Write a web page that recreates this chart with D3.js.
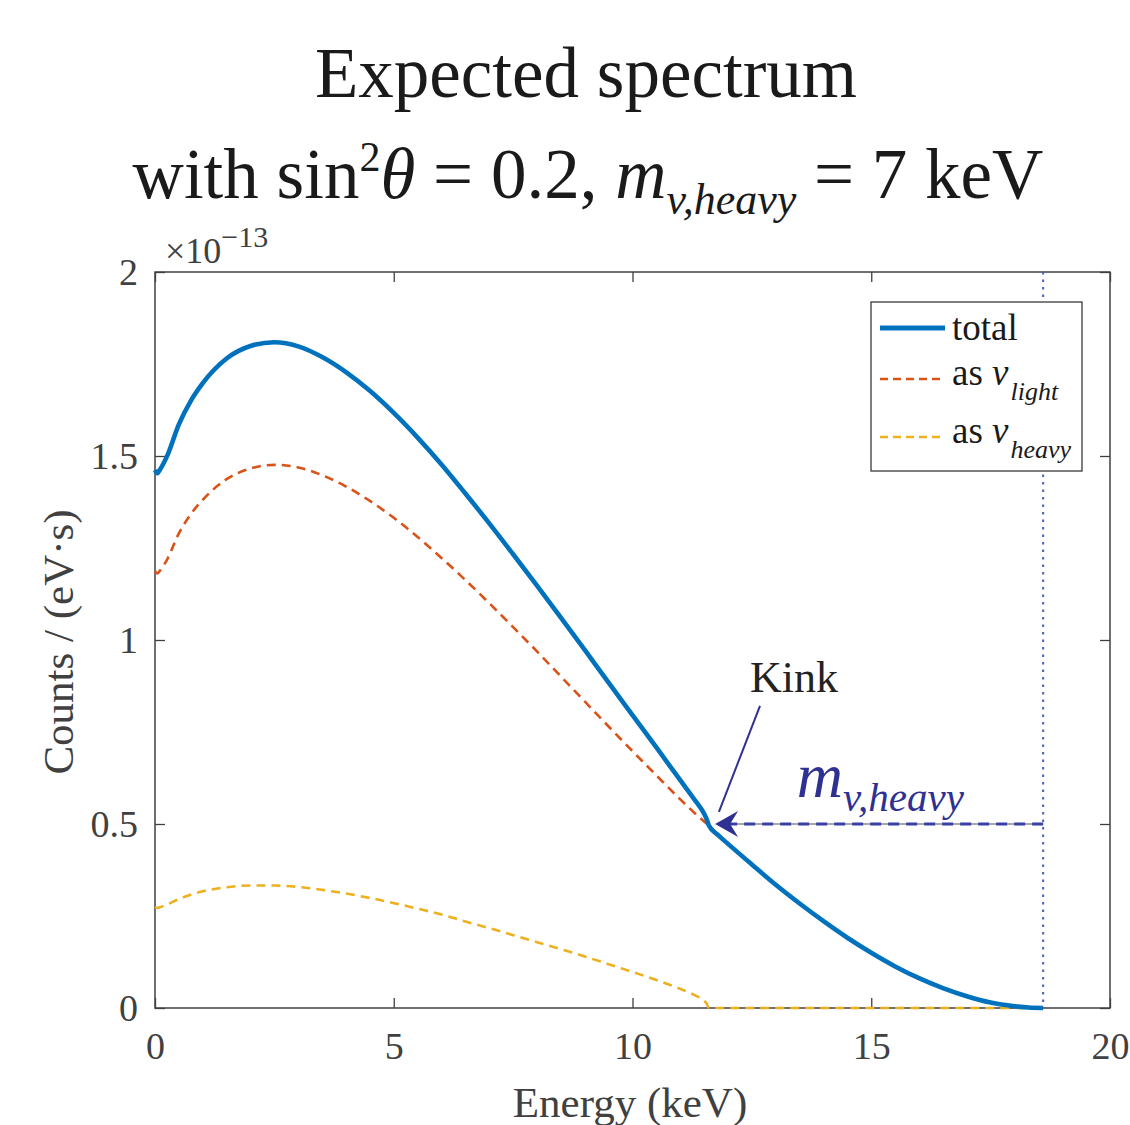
<!DOCTYPE html>
<html>
<head>
<meta charset="utf-8">
<script src="https://cdn.jsdelivr.net/npm/d3@7"></script>
<style>
  body { margin: 0; background: #fff; }
  svg text { font-family: "Liberation Serif", "Times New Roman", serif; white-space: pre; }
</style>
</head>
<body>
<div id="chart"></div>
<script>
// energy grid (keV) and the three curves, in units of 1e-13 counts/(eV s)
const energy = [0, 0.05, 0.1, 0.25, 0.5, 0.75, 1, 1.5, 2, 2.5, 3, 3.5, 4, 4.5, 5, 5.5, 6, 6.5, 7, 7.5,
  8, 8.5, 9, 9.5, 10, 10.5, 11, 11.3, 11.5, 11.55, 11.6, 11.8, 12, 12.5, 13, 13.5, 14, 14.5, 15, 15.5, 16,
  16.5, 17, 17.5, 18, 18.3, 18.6];
const totalCounts = [1.462, 1.453, 1.462, 1.499, 1.586, 1.65, 1.698, 1.765, 1.799, 1.809, 1.798, 1.769,
  1.728, 1.677, 1.617, 1.55, 1.477, 1.398, 1.317, 1.233, 1.148, 1.061, 0.973, 0.884, 0.796, 0.708,
  0.619, 0.566, 0.528, 0.514, 0.496, 0.469, 0.446, 0.39, 0.335, 0.284, 0.236, 0.191, 0.15, 0.113, 0.081,
  0.054, 0.032, 0.015, 0.005, 0.0012, 0];
const lightCounts = [1.188, 1.181, 1.188, 1.218, 1.29, 1.342, 1.381, 1.437, 1.466, 1.476, 1.469, 1.448,
  1.417, 1.378, 1.332, 1.28, 1.223, 1.163, 1.1, 1.035, 0.969, 0.901, 0.833, 0.765, 0.698, 0.632,
  0.567, 0.53, 0.507, 0.501, 0.496, 0.469, 0.446, 0.39, 0.335, 0.284, 0.236, 0.191, 0.15, 0.113, 0.081,
  0.054, 0.032, 0.015, 0.005, 0.0012, 0];
const heavyCounts = [0.274, 0.272, 0.274, 0.281, 0.296, 0.308, 0.317, 0.328, 0.333, 0.333, 0.329, 0.321,
  0.311, 0.299, 0.285, 0.27, 0.254, 0.235, 0.217, 0.198, 0.179, 0.16, 0.14, 0.119, 0.098, 0.076,
  0.052, 0.035, 0.02, 0.013, 0, 0, 0, 0, 0, 0, 0, 0, 0, 0, 0,
  0, 0, 0, 0, 0, 0];

const xTicks = [0, 5, 10, 15, 20];
const yTicks = [0, 0.5, 1, 1.5, 2];
const endpointE = 18.6;   // dotted vertical line
const arrowTipE = 11.73;  // where the m_heavy arrow stops
const arrowLevel = 0.5;

const W = 1130, H = 1125;
const svg = d3.select("#chart").append("svg")
  .attr("width", W).attr("height", H);

const x = d3.scaleLinear().domain([0, 20]).range([155, 1110]);
const y = d3.scaleLinear().domain([0, 2]).range([1008, 272]);

const axisColor = "#404040";

// title
svg.append("text")
  .attr("x", 586).attr("y", 97)
  .attr("text-anchor", "middle").attr("font-size", 71).attr("fill", "#1a1a1a")
  .text("Expected spectrum");

const t2 = svg.append("text")
  .attr("x", 588).attr("y", 198)
  .attr("text-anchor", "middle").attr("font-size", 71).attr("fill", "#1a1a1a");
t2.append("tspan").text("with sin");
t2.append("tspan").attr("font-size", 42).attr("dy", -27).text("2");
t2.append("tspan").attr("font-style", "italic").attr("dy", 27).text("θ");
t2.append("tspan").text(" = 0.2, ");
t2.append("tspan").attr("font-style", "italic").text("m");
t2.append("tspan").attr("font-style", "italic").attr("font-size", 44).attr("dy", 16).text("v,heavy");
t2.append("tspan").attr("dy", -16).text(" = 7 keV");

// exponent label
const expo = svg.append("text")
  .attr("x", 165).attr("y", 263).attr("font-size", 36).attr("fill", axisColor);
expo.append("tspan").text("×10");
expo.append("tspan").attr("font-size", 30).attr("dy", -16).text("−13");

// axes
const gx = svg.append("g").attr("transform", `translate(0,${y(0)})`)
  .call(d3.axisBottom(x).tickValues(xTicks).tickSizeInner(-10).tickSizeOuter(0).tickPadding(24));
const gy = svg.append("g").attr("transform", `translate(${x(0)},0)`)
  .call(d3.axisLeft(y).tickValues(yTicks).tickFormat(d3.format("")).tickSizeInner(-10).tickSizeOuter(0).tickPadding(17));
const gt = svg.append("g").attr("transform", `translate(0,${y(2)})`)
  .call(d3.axisTop(x).tickValues(xTicks).tickFormat("").tickSizeInner(-10).tickSizeOuter(0));
const gr = svg.append("g").attr("transform", `translate(${x(20)},0)`)
  .call(d3.axisRight(y).tickValues(yTicks).tickFormat("").tickSizeInner(-10).tickSizeOuter(0));

[gx, gy, gt, gr].forEach(g => {
  g.select(".domain").remove();
  g.selectAll(".tick line").attr("stroke", axisColor).attr("stroke-width", 1.3);
  g.selectAll(".tick text").attr("fill", axisColor).attr("font-size", 38)
    .style("font-family", '"Liberation Serif", serif');
});

svg.append("rect")
  .attr("x", x(0)).attr("y", y(2))
  .attr("width", x(20) - x(0)).attr("height", y(0) - y(2))
  .attr("fill", "none").attr("stroke", axisColor).attr("stroke-width", 1.5);

// axis titles
svg.append("text")
  .attr("x", 630).attr("y", 1117)
  .attr("text-anchor", "middle").attr("font-size", 43).attr("fill", axisColor)
  .text("Energy (keV)");
svg.append("text")
  .attr("transform", "translate(73,642) rotate(-90)")
  .attr("text-anchor", "middle").attr("font-size", 43).attr("fill", axisColor)
  .text("Counts / (eV·s)");

// curves
const line = d3.line()
  .x(d => x(d[0])).y(d => y(d[1]))
  .curve(d3.curveMonotoneX);

const pairs = arr => energy.map((e, i) => [e, arr[i]]);

svg.append("path").datum(pairs(heavyCounts))
  .attr("d", line).attr("fill", "none")
  .attr("stroke", "#EDB120").attr("stroke-width", 2.6).attr("stroke-dasharray", "9,6");
svg.append("path").datum(pairs(lightCounts))
  .attr("d", line).attr("fill", "none")
  .attr("stroke", "#D95319").attr("stroke-width", 2.6).attr("stroke-dasharray", "9,6");
svg.append("path").datum(pairs(totalCounts))
  .attr("d", line).attr("fill", "none")
  .attr("stroke", "#0072BD").attr("stroke-width", 4.6).attr("stroke-linejoin", "round");

// endpoint dotted line
svg.append("line")
  .attr("x1", x(endpointE)).attr("x2", x(endpointE))
  .attr("y1", y(2)).attr("y2", y(0))
  .attr("stroke", "#4a5cc0").attr("stroke-width", 2).attr("stroke-dasharray", "2.5,5");

// m_heavy arrow
const navy = "#2e3192";
svg.append("line")
  .attr("x1", x(endpointE)).attr("x2", x(arrowTipE) + 8)
  .attr("y1", y(arrowLevel)).attr("y2", y(arrowLevel))
  .attr("stroke", "#8a8a8a").attr("stroke-width", 1.3);
svg.append("line")
  .attr("x1", x(endpointE)).attr("x2", x(arrowTipE) + 14)
  .attr("y1", y(arrowLevel)).attr("y2", y(arrowLevel))
  .attr("stroke", "#3a40a8").attr("stroke-width", 2.8).attr("stroke-dasharray", "11,7");
const tx = x(arrowTipE), ty = y(arrowLevel);
svg.append("path")
  .attr("d", `M${tx},${ty} L${tx + 23},${ty - 13} L${tx + 15},${ty} L${tx + 23},${ty + 13} Z`)
  .attr("fill", navy);

// Kink pointer
svg.append("line")
  .attr("x1", x(12.67)).attr("y1", y(0.821))
  .attr("x2", x(11.81)).attr("y2", y(0.533))
  .attr("stroke", navy).attr("stroke-width", 2);
svg.append("text")
  .attr("x", x(12.46)).attr("y", y(0.859))
  .attr("font-size", 44).attr("fill", "#222")
  .text("Kink");

const ml = svg.append("text")
  .attr("x", x(13.44)).attr("y", y(0.573))
  .attr("font-size", 64).attr("fill", navy).attr("font-style", "italic");
ml.append("tspan").text("m");
ml.append("tspan").attr("font-size", 41).attr("dy", 14).text("v,heavy");

// legend
const legend = svg.append("g");
legend.append("rect")
  .attr("x", 871).attr("y", 302).attr("width", 211).attr("height", 169)
  .attr("fill", "#fff").attr("stroke", "#3a3a3a").attr("stroke-width", 1.3);
const legendItems = [
  { label: "total", sub: null, color: "#0072BD", width: 5, dash: null, ly: 328, ty: 340 },
  { label: "as ", sub: "light", color: "#D95319", width: 2.6, dash: "8,5", ly: 379, ty: 385 },
  { label: "as ", sub: "heavy", color: "#EDB120", width: 2.6, dash: "8,5", ly: 437, ty: 443 }
];
legendItems.forEach(it => {
  legend.append("line")
    .attr("x1", 880).attr("x2", 945).attr("y1", it.ly).attr("y2", it.ly)
    .attr("stroke", it.color).attr("stroke-width", it.width)
    .attr("stroke-dasharray", it.dash);
  const t = legend.append("text")
    .attr("x", 952).attr("y", it.ty).attr("font-size", 37).attr("fill", "#1a1a1a");
  t.append("tspan").text(it.label);
  if (it.sub) {
    t.append("tspan").attr("font-style", "italic").text("v");
    t.append("tspan").attr("font-style", "italic").attr("font-size", 26).attr("dy", 15).attr("dx", 2).text(it.sub);
  }
});
</script>
</body>
</html>
